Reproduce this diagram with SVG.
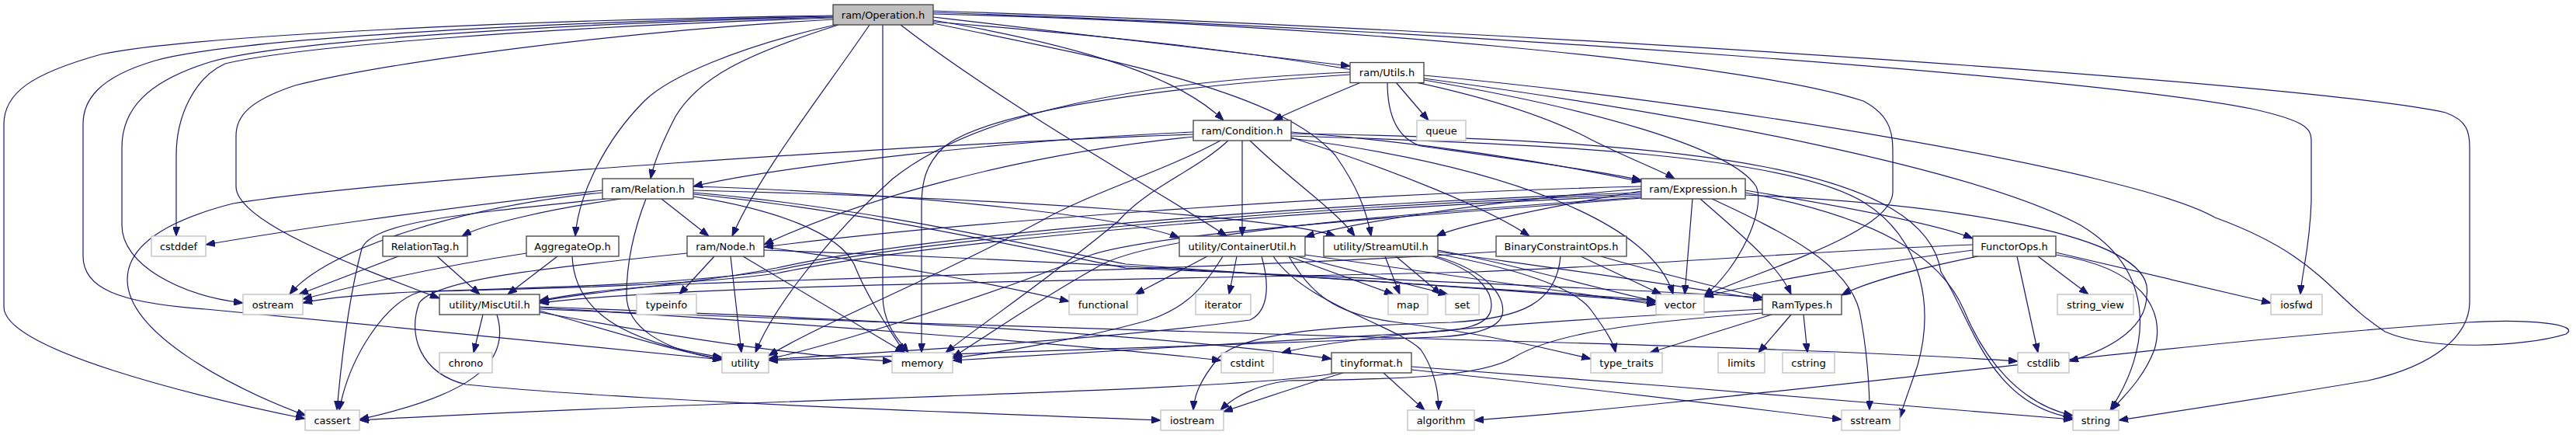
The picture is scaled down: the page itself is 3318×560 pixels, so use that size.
<svg xmlns="http://www.w3.org/2000/svg" width="3318" height="560" viewBox="0 0 3318 560">
<style>
.bg{fill:#fff}
.e path{fill:none;stroke:#191970;stroke-width:1.2;marker-end:url(#a)}
.nd rect{fill:#fff;stroke:#404040;stroke-width:1.3}
.ext rect{fill:#fff;stroke:#bfbfbf;stroke-width:1.3}
.main rect{fill:#bfbfbf;stroke:#404040;stroke-width:1.3}
text{font-family:"DejaVu Sans","Liberation Sans",sans-serif;font-size:13px;text-anchor:middle;fill:#000}
</style>
<defs>
<marker id="a" viewBox="0 0 12 9" refX="12" refY="4.5" markerWidth="12" markerHeight="9" markerUnits="userSpaceOnUse" orient="auto"><path d="M0,0 L12,4.5 L0,9 z" fill="#191970" stroke="#191970"/></marker>
</defs>
<rect class="bg" x="0" y="0" width="3318" height="560"/>
<g id="edges" class="e">
<!-- Operation.h -->
<path d="M1073,20 C700,25 250,45 130,70 C40,95 5,120 5,160 L5,395 C5,450 250,510 393,539"/>
<path d="M1073,21 C700,28 300,50 200,78 C125,100 107,130 107,160 L107,330 C107,370 150,390 265,398 C500,420 800,450 930,463"/>
<path d="M1073,22 C700,30 350,55 270,80 C190,105 157,140 157,190 L157,290 C157,340 230,380 313,390"/>
<path d="M1073,23 C700,35 380,60 290,82 C250,100 227,150 227,200 L227,304"/>
<path d="M1073,25 C800,40 500,80 380,110 C320,130 304,150 304,175 L304,240 C304,285 450,340 566,384"/>
<path d="M1076,32 C950,60 860,100 830,130 C780,180 745,250 741,304"/>
<path d="M1080,32 C960,70 900,100 870,150 C852,185 842,210 838,230"/>
<path d="M1120,32 C1060,120 980,220 943,304"/>
<path d="M1137,32 L1137,380 C1137,420 1160,440 1170,454"/>
<path d="M1160,32 C1300,140 1500,250 1580,304"/>
<path d="M1202,26 C1400,60 1520,100 1576,155"/>
<path d="M1202,22 C1400,45 1600,70 1739,85"/>
<path d="M1202,28 C1600,60 1900,100 2050,180 C2100,205 2140,220 2157,230"/>
<path d="M1202,30 C1450,80 1650,120 1720,200 C1748,240 1760,270 1766,304"/>
<path d="M1202,18 C1700,30 2250,80 2400,130 C2438,150 2438,175 2438,200 L2438,247 C2438,300 2260,350 2195,381"/>
<path d="M1202,16 C1900,40 2700,100 2900,140 C2968,155 2977,165 2977,180 L2977,260 C2975,320 2965,350 2963,379"/>
<path d="M1202,14 C2000,40 3000,110 3150,145 C3178,155 3181,170 3181,190 L3181,390 C3180,430 3140,470 3050,490 C2900,515 2800,530 2729,541"/>
<!-- Utils.h -->
<path d="M1753,106 C1720,120 1670,140 1640,155"/>
<path d="M1798,106 L1840,155"/>
<path d="M1787,106 C1787,150 1800,178 1830,188 C1950,205 2060,220 2114,232"/>
<path d="M1739,93 C1450,105 1250,150 1150,230 C1050,320 990,410 973,454"/>
<path d="M1739,96 C1450,115 1260,150 1215,190 C1192,212 1187,235 1187,265 L1187,454"/>
<path d="M1834,97 C2200,130 2750,220 2853,280 C2990,330 3000,380 3072,427 C3130,452 3250,447 3305,430 C3325,418 3260,410 3178,415 C2800,440 2200,520 1899,541"/>
<path d="M1834,101 C2200,150 2550,220 2680,290 C2780,350 2770,450 2718,528"/>
<path d="M1834,103 C2050,140 2230,190 2262,240 C2275,270 2240,345 2195,381"/>
<!-- Condition.h -->
<path d="M1537,170 C1300,180 1000,215 893,240"/>
<path d="M1663,170 C1850,185 2000,210 2114,234"/>
<path d="M1537,176 C1300,200 1100,260 984,315"/>
<path d="M1600,181 L1600,304"/>
<path d="M1610,181 C1660,230 1720,270 1745,304"/>
<path d="M1663,177 C1800,220 1920,270 1970,304"/>
<path d="M1537,173 C1200,185 500,230 300,262 C230,280 164,310 164,360 C164,430 300,500 394,535"/>
<path d="M1572,181 C1500,220 1400,250 1340,285 C1200,360 1050,420 990,458"/>
<path d="M1582,181 C1540,220 1480,240 1440,285 C1350,360 1260,420 1218,454"/>
<path d="M1663,178 C1950,215 2130,290 2155,379"/>
<path d="M1663,175 C2000,185 2300,200 2400,260 C2480,310 2490,400 2470,470 C2460,500 2452,520 2447,538"/>
<path d="M1663,172 C2200,180 2480,220 2500,350 C2540,410 2560,520 2670,538"/>
<!-- Relation.h -->
<path d="M800,256 C700,270 620,290 595,304"/>
<path d="M852,256 L913,304"/>
<path d="M776,245 C550,270 350,300 265,315"/>
<path d="M776,248 C600,265 420,320 373,379"/>
<path d="M780,256 C600,275 480,285 466,320 C450,380 440,460 434,528"/>
<path d="M832,256 C815,300 807,340 807,380 C807,420 850,450 930,463"/>
<path d="M893,253 C1000,270 1080,300 1100,340 C1120,390 1150,430 1165,454"/>
<path d="M893,240 C1200,250 1450,280 1519,306"/>
<path d="M893,245 C1300,255 1650,280 1720,304"/>
<path d="M893,248 C1100,265 1300,310 1450,340 C1700,360 2000,375 2133,387"/>
<path d="M893,250 C1100,270 1300,315 1450,345 C1800,360 2100,372 2270,383"/>
<!-- Expression.h -->
<path d="M2248,245 C2400,270 2500,290 2541,307"/>
<path d="M2190,256 C2240,300 2290,340 2307,379"/>
<path d="M2180,256 L2170,379"/>
<path d="M2114,240 C1700,250 1200,290 984,318"/>
<path d="M2114,243 C1900,260 1730,290 1681,305"/>
<path d="M2114,246 C2000,265 1880,290 1850,304"/>
<path d="M2114,248 C1700,262 1200,300 1000,345 C900,365 760,375 695,388"/>
<path d="M2114,250 C1700,265 1200,305 1000,348 C850,370 600,372 530,376 C450,380 410,385 390,390"/>
<path d="M2114,252 C1700,268 1200,310 1000,352 C850,372 620,372 540,376 C495,390 450,460 437,528"/>
<path d="M2114,254 C1800,275 1500,300 1420,340 C1330,390 1260,440 1227,460"/>
<path d="M2114,255 C1800,280 1480,300 1400,330 C1250,390 1050,450 990,462"/>
<path d="M2205,256 C2300,300 2380,340 2395,400 C2405,450 2408,500 2408,528"/>
<path d="M2248,248 C2420,280 2500,330 2530,400 C2555,460 2600,520 2670,535"/>
<path d="M2248,251 C2500,262 2780,300 2765,380 C2765,430 2700,455 2665,465"/>
<!-- FunctorOps.h -->
<path d="M2625,330 L2690,379"/>
<path d="M2598,330 L2625,454"/>
<path d="M2648,325 L2925,390"/>
<path d="M2648,328 C2760,345 2790,400 2775,450 C2760,490 2730,515 2720,528"/>
<path d="M2548,330 C2450,350 2400,365 2372,380"/>
<path d="M2541,322 C2400,340 2260,365 2195,382"/>
<path d="M2541,315 C2300,325 2150,340 1900,350 C1500,360 900,365 695,390"/>
<!-- RamTypes.h -->
<path d="M2282,405 L2125,454"/>
<path d="M2307,405 L2265,454"/>
<path d="M2323,405 L2328,454"/>
<path d="M2270,398 C2000,412 1750,430 1651,454"/>
<path d="M2270,403 C2100,415 2000,430 1950,460 C1900,490 1750,488 1660,490 C1620,495 1590,510 1572,528"/>
<!-- StreamUtil.h -->
<path d="M1784,330 L1803,379"/>
<path d="M1798,330 L1856,379"/>
<path d="M1852,322 C1950,340 2050,370 2133,388"/>
<path d="M1852,327 C1950,345 2030,370 2050,400 C2068,425 2078,440 2081,454"/>
<path d="M1845,330 C1910,350 1925,380 1920,400 C1915,420 1880,425 1850,427 C1600,440 1350,455 1227,464"/>
<path d="M1850,330 C1920,350 1940,385 1935,405 C1930,425 1890,432 1850,434 C1600,445 1200,455 990,464"/>
<path d="M1852,324 C2000,345 2150,365 2270,386"/>
<!-- ContainerUtil.h -->
<path d="M1555,330 L1462,379"/>
<path d="M1593,330 L1583,379"/>
<path d="M1575,330 C1550,370 1530,395 1480,412 C1400,435 1280,455 1227,461"/>
<path d="M1625,330 C1635,365 1635,400 1610,412 C1400,440 1100,455 990,463"/>
<path d="M1660,330 L1795,379"/>
<path d="M1670,330 L1865,379"/>
<path d="M1681,328 L2133,392"/>
<path d="M1660,330 C1690,380 1720,405 1800,415 C1900,428 1980,445 2049,462"/>
<path d="M1640,330 C1680,390 1800,420 1830,450 C1850,480 1853,510 1853,528"/>
<!-- BinaryConstraintOps.h -->
<path d="M2036,330 L2140,379"/>
<path d="M2062,330 C2150,355 2220,372 2270,383"/>
<path d="M1927,324 C1700,340 1200,355 900,365 C800,370 730,380 695,387"/>
<path d="M2010,330 C2005,390 1960,410 1870,415 C1700,420 1600,430 1570,460 C1545,490 1538,510 1537,528"/>
<!-- MiscUtil.h -->
<path d="M622,405 L610,454"/>
<path d="M640,405 C660,470 600,510 463,540"/>
<path d="M695,395 C1100,410 1500,430 1715,462"/>
<path d="M695,400 C800,430 880,455 930,462"/>
<path d="M695,402 C900,440 1050,460 1149,465"/>
<path d="M695,398 C1100,415 1660,432 1900,438 C2200,446 2450,455 2599,465"/>
<path d="M695,396 C1100,420 1450,450 1573,464"/>
<!-- tinyformat.h -->
<path d="M1782,480 L1835,528"/>
<path d="M1818,476 C2000,495 2250,525 2372,540"/>
<path d="M1818,472 C2100,492 2400,518 2670,540"/>
<path d="M1730,480 C1680,495 1620,515 1576,530"/>
<path d="M1722,480 C1600,505 900,515 463,541"/>
<!-- AggregateOp.h -->
<path d="M718,330 L654,379"/>
<path d="M678,326 C550,345 450,370 390,385"/>
<path d="M737,330 C740,400 800,440 930,460"/>
<!-- RelationTag.h -->
<path d="M513,330 L385,379"/>
<path d="M563,330 L618,379"/>
<!-- Node.h -->
<path d="M920,330 L875,379"/>
<path d="M941,330 L955,454"/>
<path d="M957,330 L1165,454"/>
<path d="M984,318 C1150,340 1300,370 1377,388"/>
<path d="M885,326 C700,345 560,360 540,390 C525,430 540,480 600,495 C800,515 1200,530 1495,541"/>
<path d="M984,322 C1500,340 1900,370 2133,389"/>
</g>
<g id="n_operation" class="main"><rect x="1073" y="6" width="129" height="26"/><text x="1137.5" y="23.5">ram/Operation.h</text></g>
<g id="n_utils" class="nd"><rect x="1739" y="80.5" width="95" height="26"/><text x="1786.5" y="98">ram/Utils.h</text></g>
<g id="n_condition" class="nd"><rect x="1537" y="155" width="126" height="26"/><text x="1600" y="172.5">ram/Condition.h</text></g>
<g id="n_queue" class="ext"><rect x="1825" y="155" width="63" height="26"/><text x="1856.5" y="172.5">queue</text></g>
<g id="n_relation" class="nd"><rect x="776" y="230" width="117" height="26"/><text x="834.5" y="247.5">ram/Relation.h</text></g>
<g id="n_expression" class="nd"><rect x="2114" y="230" width="134" height="26"/><text x="2181" y="247.5">ram/Expression.h</text></g>
<g id="n_cstddef" class="ext"><rect x="195" y="304" width="70" height="26"/><text x="230" y="321.5">cstddef</text></g>
<g id="n_relationtag" class="nd"><rect x="493" y="304" width="109" height="26"/><text x="547.5" y="321.5">RelationTag.h</text></g>
<g id="n_aggregateop" class="nd"><rect x="678" y="304" width="119" height="26"/><text x="737.5" y="321.5">AggregateOp.h</text></g>
<g id="n_node" class="nd"><rect x="885" y="304" width="99" height="26"/><text x="934.5" y="321.5">ram/Node.h</text></g>
<g id="n_containerutil" class="nd"><rect x="1519" y="304" width="162" height="26"/><text x="1600" y="321.5">utility/ContainerUtil.h</text></g>
<g id="n_streamutil" class="nd"><rect x="1705" y="304" width="147" height="26"/><text x="1778.5" y="321.5">utility/StreamUtil.h</text></g>
<g id="n_binaryconstraintops" class="nd"><rect x="1927" y="304" width="168" height="26"/><text x="2011" y="321.5">BinaryConstraintOps.h</text></g>
<g id="n_functorops" class="nd"><rect x="2541" y="304" width="107" height="26"/><text x="2594.5" y="321.5">FunctorOps.h</text></g>
<g id="n_ostream" class="ext"><rect x="313" y="379" width="77" height="26"/><text x="351.5" y="396.5">ostream</text></g>
<g id="n_miscutil" class="nd"><rect x="566" y="379" width="129" height="26"/><text x="630.5" y="396.5">utility/MiscUtil.h</text></g>
<g id="n_typeinfo" class="ext"><rect x="820" y="379" width="77" height="26"/><text x="858.5" y="396.5">typeinfo</text></g>
<g id="n_functional" class="ext"><rect x="1377" y="379" width="88" height="26"/><text x="1421" y="396.5">functional</text></g>
<g id="n_iterator" class="ext"><rect x="1540" y="379" width="71" height="26"/><text x="1575.5" y="396.5">iterator</text></g>
<g id="n_map" class="ext"><rect x="1788" y="379" width="51" height="26"/><text x="1813.5" y="396.5">map</text></g>
<g id="n_set" class="ext"><rect x="1862" y="379" width="43" height="26"/><text x="1883.5" y="396.5">set</text></g>
<g id="n_vector" class="ext"><rect x="2133" y="379" width="62" height="26"/><text x="2164" y="396.5">vector</text></g>
<g id="n_ramtypes" class="nd"><rect x="2270" y="379" width="102" height="26"/><text x="2321" y="396.5">RamTypes.h</text></g>
<g id="n_string_view" class="ext"><rect x="2650" y="379" width="98" height="26"/><text x="2699" y="396.5">string_view</text></g>
<g id="n_iosfwd" class="ext"><rect x="2925" y="379" width="66" height="26"/><text x="2958" y="396.5">iosfwd</text></g>
<g id="n_chrono" class="ext"><rect x="566" y="454" width="68" height="26"/><text x="600" y="471.5">chrono</text></g>
<g id="n_utility" class="ext"><rect x="930" y="454" width="60" height="26"/><text x="960" y="471.5">utility</text></g>
<g id="n_memory" class="ext"><rect x="1149" y="454" width="78" height="26"/><text x="1188" y="471.5">memory</text></g>
<g id="n_cstdint" class="ext"><rect x="1573" y="454" width="67" height="26"/><text x="1606.5" y="471.5">cstdint</text></g>
<g id="n_tinyformat" class="nd"><rect x="1715" y="454" width="103" height="26"/><text x="1766.5" y="471.5">tinyformat.h</text></g>
<g id="n_type_traits" class="ext"><rect x="2049" y="454" width="92" height="26"/><text x="2095" y="471.5">type_traits</text></g>
<g id="n_limits" class="ext"><rect x="2213" y="454" width="60" height="26"/><text x="2243" y="471.5">limits</text></g>
<g id="n_cstring" class="ext"><rect x="2296" y="454" width="67" height="26"/><text x="2329.5" y="471.5">cstring</text></g>
<g id="n_cstdlib" class="ext"><rect x="2599" y="454" width="66" height="26"/><text x="2632" y="471.5">cstdlib</text></g>
<g id="n_cassert" class="ext"><rect x="393" y="528" width="70" height="26"/><text x="428" y="545.5">cassert</text></g>
<g id="n_iostream" class="ext"><rect x="1495" y="528" width="81" height="26"/><text x="1535.5" y="545.5">iostream</text></g>
<g id="n_algorithm" class="ext"><rect x="1813" y="528" width="86" height="26"/><text x="1856" y="545.5">algorithm</text></g>
<g id="n_sstream" class="ext"><rect x="2372" y="528" width="75" height="26"/><text x="2409.5" y="545.5">sstream</text></g>
<g id="n_string" class="ext"><rect x="2670" y="528" width="59" height="26"/><text x="2699.5" y="545.5">string</text></g>
</svg>
